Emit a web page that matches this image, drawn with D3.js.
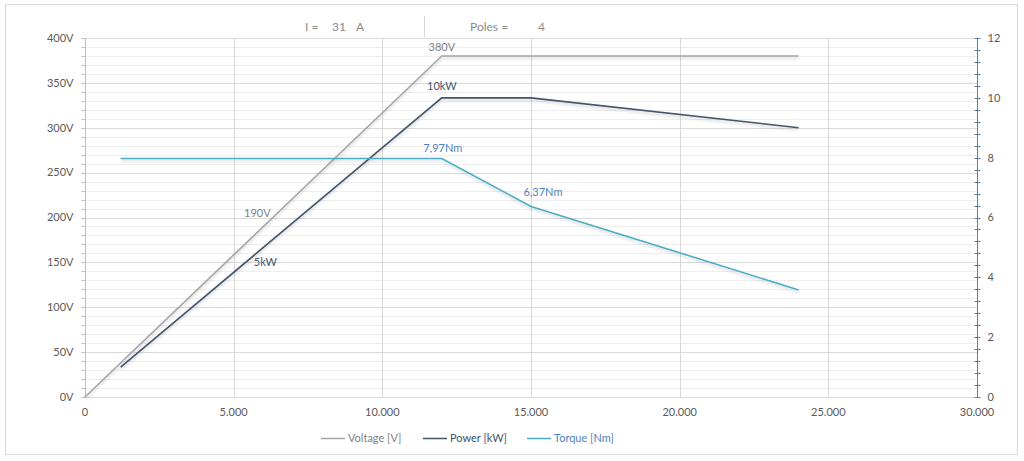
<!DOCTYPE html>
<html><head><meta charset="utf-8">
<script src="https://cdn.jsdelivr.net/npm/d3@7"></script>
<style>
html,body{margin:0;padding:0;background:#fff;}
svg{display:block;font-family:Lato,"Open Sans",sans-serif;}
</style></head>
<body><svg id="c" width="1024" height="461"></svg>
<script>
const voltSpeed = [0, 6000, 12000, 15000, 24000];
const voltage = [0, 190, 380, 380, 380];
const speed = [1200, 6000, 12000, 15000, 24000];
const power = [1.0, 5, 10, 10, 9.0];
const torque = [7.97, 7.97, 7.97, 6.37, 3.58];
const xTicks = [0, 5000, 10000, 15000, 20000, 25000, 30000];
const leftTicks = [0, 50, 100, 150, 200, 250, 300, 350, 400];
const rightTicks = [0, 2, 4, 6, 8, 10, 12];
const seriesNames = ["Voltage [V]", "Power [kW]", "Torque [Nm]"];
const voltLabels = [{i:1, t:"190V"}, {i:2, t:"380V"}];
const powerLabels = [{i:1, t:"5kW"}, {i:2, t:"10kW"}];
const torqueLabels = [{i:2, t:"7,97Nm"}, {i:3, t:"6,37Nm"}];
const headerParts = [{t:"I =", x:305}, {t:"31", x:332}, {t:"A", x:356}, {t:"Poles =", x:470}, {t:"4", x:538}];

const cVolt = "#a5a5a5", cPow = "#44546a", cTor = "#4bacc6";
const svg = d3.select("#c");
const x = d3.scaleLinear().domain([0, 30000]).range([85, 977]);
const yL = d3.scaleLinear().domain([0, 400]).range([397, 38]);
const yR = d3.scaleLinear().domain([0, 12]).range([397, 38]);

const defs = svg.append("defs");
const f = defs.append("filter").attr("id","sh").attr("x","-5%").attr("y","-20%").attr("width","110%").attr("height","140%");
f.append("feDropShadow").attr("dx",0).attr("dy",2).attr("stdDeviation",1.5).attr("flood-color","#000").attr("flood-opacity",0.18);

// border
svg.append("rect").attr("x",5.5).attr("y",4.5).attr("width",1012).attr("height",450)
  .attr("fill","#fff").attr("stroke","#d9d9d9");

// gridlines
const g = svg.append("g");
g.selectAll("line.mn").data(d3.range(0, 401, 10).filter(v => v % 50 !== 0)).join("line")
  .attr("x1", x(0)).attr("x2", x(30000)).attr("y1", d => Math.round(yL(d))+0.5).attr("y2", d => Math.round(yL(d))+0.5)
  .attr("stroke","#eeeeee");
g.selectAll("line.mj").data(leftTicks.slice(1)).join("line")
  .attr("x1", x(0)).attr("x2", x(30000)).attr("y1", d => Math.round(yL(d))+0.5).attr("y2", d => Math.round(yL(d))+0.5)
  .attr("stroke","#d9d9d9");
g.selectAll("line.v").data(xTicks.slice(1,-1)).join("line")
  .attr("x1", d => Math.round(x(d))+0.5).attr("x2", d => Math.round(x(d))+0.5).attr("y1", yL(400)).attr("y2", yL(0))
  .attr("stroke","#d9d9d9");
svg.append("line").attr("x1",x(0)).attr("x2",x(30000)).attr("y1",397.5).attr("y2",397.5).attr("stroke","#d9d9d9");

// left axis
const la = svg.append("g").attr("transform","translate(85.5,0)");
la.append("line").attr("y1",yL(400)).attr("y2",yL(0)).attr("stroke","#bfbfbf");
la.selectAll("line.t").data(d3.range(0,401,10)).join("line")
  .attr("x1",-4).attr("x2",0).attr("y1",d=>Math.round(yL(d))+0.5).attr("y2",d=>Math.round(yL(d))+0.5).attr("stroke","#bfbfbf");
la.selectAll("text").data(leftTicks).join("text")
  .attr("x",-12).attr("y",d=>yL(d)).attr("dy","0.35em").attr("text-anchor","end")
  .attr("font-size",11).attr("fill","#595959").text(d=>d+"V");

// right axis
const ra = svg.append("g").attr("transform","translate(977.5,0)");
ra.append("line").attr("y1",yR(12)).attr("y2",yR(0)).attr("stroke","#5a7fa3");
ra.selectAll("line.t").data(d3.range(0,12.01,0.4)).join("line")
  .attr("x1",-3).attr("x2",3).attr("y1",d=>Math.round(yR(d))+0.5).attr("y2",d=>Math.round(yR(d))+0.5).attr("stroke","#5a7fa3");
ra.selectAll("text").data(rightTicks).join("text")
  .attr("x",10).attr("y",d=>yR(d)).attr("dy","0.35em").attr("text-anchor","start")
  .attr("font-size",11).attr("fill","#595959").text(d=>d);

// x labels
const xl = d => d === 0 ? "0" : (d/1000) + ".000";
svg.append("g").selectAll("text").data(xTicks).join("text")
  .attr("x",d=>x(d)).attr("y",416).attr("text-anchor","middle")
  .attr("font-size",11).attr("fill","#595959").text(xl);

// lines
const lineV = d3.line().x((d,i)=>x(voltSpeed[i])).y(d=>yL(d));
const lineP = d3.line().x((d,i)=>x(speed[i])).y(d=>yR(d));
svg.append("path").datum(voltage).attr("d",lineV).attr("fill","none").attr("stroke",cVolt).attr("stroke-width",1.6).attr("filter","url(#sh)");
svg.append("path").datum(power).attr("d",lineP).attr("fill","none").attr("stroke",cPow).attr("stroke-width",1.6).attr("filter","url(#sh)");
svg.append("path").datum(torque).attr("d",lineP).attr("fill","none").attr("stroke",cTor).attr("stroke-width",1.6).attr("filter","url(#sh)");

// data labels
const lab = svg.append("g").attr("font-size",11);
lab.selectAll("text.v").data(voltLabels).join("text")
  .attr("x",d=>x(voltSpeed[d.i]) + (d.i===1?-6:0)).attr("y",d=>yL(voltage[d.i]) + (d.i===1?-9:-5))
  .attr("text-anchor","middle").attr("fill","#7f7f7f").text(d=>d.t);
lab.selectAll("text.p").data(powerLabels).join("text")
  .attr("x",d=>x(speed[d.i]) + (d.i===1?2:0)).attr("y",d=>yR(power[d.i]) + (d.i===1?19:-8))
  .attr("text-anchor","middle").attr("fill",cPow).text(d=>d.t);
lab.selectAll("text.t").data(torqueLabels).join("text")
  .attr("x",d=>x(speed[d.i]) + (d.i===3?12:1)).attr("y",d=>yR(torque[d.i]) - (d.i===3?10:7))
  .attr("text-anchor","middle").attr("fill","#4f81bd").text(d=>d.t);

// header
svg.append("g").selectAll("text").data(headerParts).join("text")
  .attr("x",d=>d.x).attr("y",31).attr("font-size",12).attr("fill","#8c8c8c").text(d=>d.t);
svg.append("line").attr("x1",424.5).attr("x2",424.5).attr("y1",16).attr("y2",37).attr("stroke","#d9d9d9");

// legend
const legCols = [cVolt, cPow, cTor];
const legTxt = ["#7f7f7f", cPow, "#4f81bd"];
const legX = [321, 423, 527];
const lg = svg.append("g");
seriesNames.forEach((n,i)=>{
  lg.append("line").attr("x1",legX[i]).attr("x2",legX[i]+24).attr("y1",438.5).attr("y2",438.5).attr("stroke",legCols[i]).attr("stroke-width",1.5);
  lg.append("text").attr("x",legX[i]+27).attr("y",442).attr("font-size",11).attr("fill",legTxt[i]).text(n);
});
</script></body></html>
